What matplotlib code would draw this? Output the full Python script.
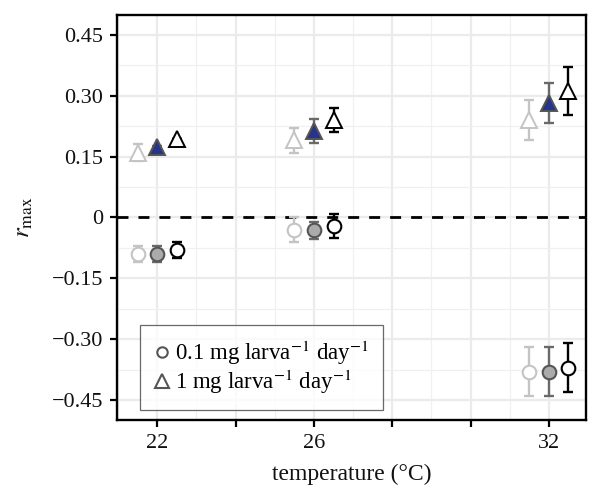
import matplotlib
matplotlib.use("Agg")
import matplotlib.pyplot as plt
from matplotlib.lines import Line2D
from matplotlib.ticker import FixedLocator

plt.rcParams['font.family'] = ['Liberation Serif', 'DejaVu Serif']
plt.rcParams['mathtext.fontset'] = 'stix'

temps = [22, 26, 32]
offsets = [-0.5, 0.0, 0.5]

# 1 mg larva^-1 day^-1 (triangles), three groups
tri_mean = [[0.16, 0.19, 0.24], [0.173, 0.213, 0.282], [0.193, 0.24, 0.312]]
tri_err = [[0.02, 0.03, 0.05], [0.004, 0.03, 0.05], [0.0, 0.03, 0.06]]
# 0.1 mg larva^-1 day^-1 (circles)
cir_mean = [[-0.09, -0.03, -0.38], [-0.09, -0.031, -0.38], [-0.081, -0.021, -0.37]]
cir_err = [[0.02, 0.03, 0.06], [0.02, 0.021, 0.06], [0.02, 0.03, 0.06]]

line_colors = ['#c4c4c4', '#6a6a6a', '#000000']
tri_fill = ['white', '#27348b', 'white']
cir_fill = ['white', '#ababab', 'white']
edge_colors = ['#c4c4c4', '#555555', '#000000']

fig = plt.figure(figsize=(5.89, 4.91), dpi=100)
ax = fig.add_axes([0.1986, 0.1446, 0.7964, 0.8249])

ax.set_xlim(20.97, 32.95)
ax.set_ylim(-0.499, 0.499)

ax.xaxis.set_major_locator(FixedLocator([22, 24, 26, 28, 30, 32]))
ax.set_xticklabels(['22', '', '26', '', '', '32'])
ax.xaxis.set_minor_locator(FixedLocator([21, 23, 25, 27, 29, 31]))
yt = [-0.45, -0.30, -0.15, 0, 0.15, 0.30, 0.45]
ax.set_yticks(yt)
ax.set_yticklabels(['\u22120.45', '\u22120.30', '\u22120.15', '0', '0.15', '0.30', '0.45'])
ax.yaxis.set_minor_locator(FixedLocator([-0.375, -0.225, -0.075, 0.075, 0.225, 0.375]))

ax.grid(which='major', color='#ebebeb', linewidth=1.6, zorder=0)
ax.grid(which='minor', color='#f0f0f0', linewidth=0.9, zorder=0)
ax.set_axisbelow(True)
ax.tick_params(which='minor', length=0)
ax.tick_params(which='major', length=5, width=1.6, color='black', labelsize=16,
               labelcolor='#111111', pad=5)
for s in ax.spines.values():
    s.set_linewidth(1.7)
    s.set_color('black')

ax.axhline(0, color='black', linestyle=(0, (3.95, 3.6)), linewidth=2.0, zorder=2)

for g in range(3):
    xs = [t + offsets[g] for t in temps]
    ax.errorbar(xs, tri_mean[g], yerr=tri_err[g], fmt='none', ecolor=line_colors[g],
                elinewidth=1.7, capsize=3.6, capthick=1.7, zorder=3)
    ax.errorbar(xs, cir_mean[g], yerr=cir_err[g], fmt='none', ecolor=line_colors[g],
                elinewidth=1.7, capsize=3.6, capthick=1.7, zorder=3)
    ax.plot(xs, tri_mean[g], linestyle='none', marker='^', markersize=12,
            markerfacecolor=tri_fill[g], markeredgecolor=edge_colors[g], markeredgewidth=1.4, zorder=4)
    ax.plot(xs, cir_mean[g], linestyle='none', marker='o', markersize=9.8,
            markerfacecolor=cir_fill[g], markeredgecolor=edge_colors[g], markeredgewidth=1.5, zorder=4)

ax.set_xlabel('temperature (\u00b0C)', fontsize=17, color='#111111', labelpad=8)
ax.set_ylabel(r'$r_{\mathrm{max}}$', fontsize=18, color='#111111', labelpad=12)

handles = [
    Line2D([], [], linestyle='none', marker='o', markersize=7.5, markerfacecolor='none',
           markeredgecolor='#555555', markeredgewidth=1.5),
    Line2D([], [], linestyle='none', marker='^', markersize=10, markerfacecolor='none',
           markeredgecolor='#555555', markeredgewidth=1.5),
]
labels = [r'0.1 mg larva$^{-1}$ day$^{-1}$', r'1 mg larva$^{-1}$ day$^{-1}$']
leg = ax.legend(handles, labels, loc='lower left', bbox_to_anchor=(0.049, 0.025),
                fontsize=16.5, frameon=True, fancybox=False, edgecolor='#444444',
                handlelength=0.7, handletextpad=0.25, labelspacing=0.05, borderpad=0.6,
                borderaxespad=0)
leg.get_frame().set_linewidth(0.9)
leg.set_zorder(5)

fig.savefig('out.png', dpi=100)
